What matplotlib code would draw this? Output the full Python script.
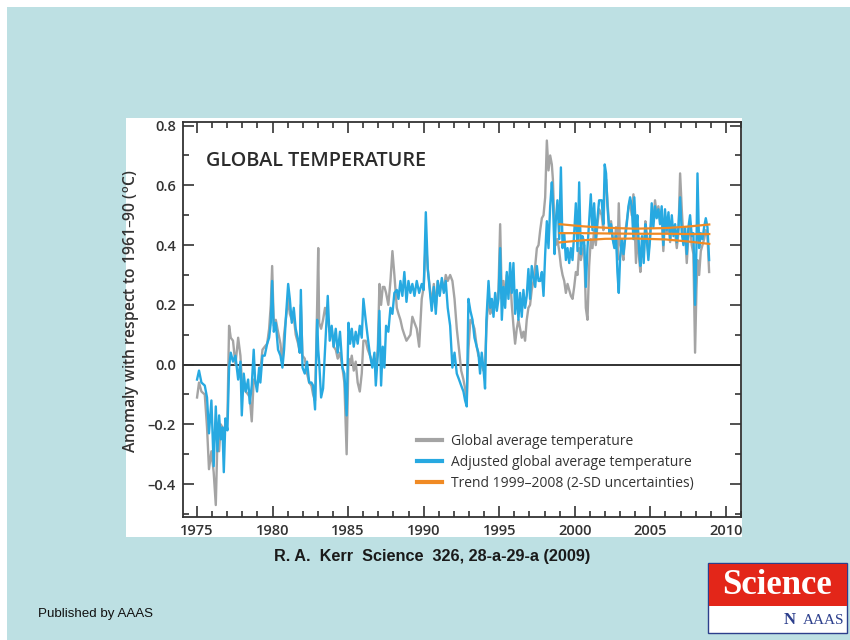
import matplotlib
matplotlib.use("Agg")
import matplotlib.pyplot as plt
from matplotlib.patches import Rectangle
from matplotlib.lines import Line2D
from matplotlib.ticker import MultipleLocator

# ---------------- data ----------------
years = [
    1975.00, 1975.13, 1975.29, 1975.51, 1975.66, 1975.79, 1975.95, 1976.10, 1976.24, 1976.35,
    1976.46, 1976.57, 1976.68, 1976.77, 1976.88, 1977.01, 1977.12, 1977.23, 1977.38, 1977.54,
    1977.72, 1977.87, 1977.96, 1978.09, 1978.22, 1978.38, 1978.49, 1978.62, 1978.75, 1978.84,
    1978.97, 1979.11, 1979.19, 1979.33, 1979.48, 1979.64, 1979.77, 1979.88, 1979.97, 1980.08,
    1980.21, 1980.36, 1980.52, 1980.65, 1980.76, 1980.87, 1981.03, 1981.14, 1981.27, 1981.40,
    1981.53, 1981.69, 1981.80, 1981.87, 1981.98, 1982.13, 1982.28, 1982.42, 1982.57, 1982.68,
    1982.81, 1982.95, 1983.02, 1983.08, 1983.21, 1983.34, 1983.47, 1983.65, 1983.78, 1983.91,
    1984.04, 1984.18, 1984.31, 1984.46, 1984.62, 1984.75, 1984.90, 1985.02, 1985.13, 1985.24,
    1985.37, 1985.50, 1985.63, 1985.77, 1985.90, 1986.01, 1986.16, 1986.30, 1986.45, 1986.60,
    1986.74, 1986.83, 1986.96, 1987.07, 1987.18, 1987.29, 1987.40, 1987.51, 1987.66, 1987.80,
    1987.93, 1988.06, 1988.22, 1988.33, 1988.46, 1988.59, 1988.72, 1988.86, 1988.99, 1989.12,
    1989.25, 1989.39, 1989.54, 1989.70, 1989.87, 1990.00, 1990.14, 1990.27, 1990.40, 1990.53,
    1990.67, 1990.80, 1990.93, 1991.06, 1991.20, 1991.33, 1991.46, 1991.59, 1991.75, 1991.90,
    1992.04, 1992.19, 1992.34, 1992.48, 1992.63, 1992.74, 1992.85, 1992.96, 1993.09, 1993.23,
    1993.36, 1993.51, 1993.62, 1993.73, 1993.84, 1993.95, 1994.06, 1994.15, 1994.29, 1994.40,
    1994.51, 1994.62, 1994.73, 1994.84, 1994.95, 1995.06, 1995.17, 1995.28, 1995.39, 1995.50,
    1995.61, 1995.72, 1995.83, 1995.94, 1996.05, 1996.16, 1996.27, 1996.38, 1996.49, 1996.60,
    1996.71, 1996.82, 1996.93, 1997.04, 1997.15, 1997.27, 1997.38, 1997.49, 1997.60, 1997.71,
    1997.82, 1997.93, 1998.04, 1998.15, 1998.26, 1998.37, 1998.48, 1998.55, 1998.66, 1998.74,
    1998.85, 1998.97, 1999.08, 1999.19, 1999.30, 1999.41, 1999.52, 1999.63, 1999.74, 1999.85,
    1999.96, 2000.07, 2000.18, 2000.29, 2000.40, 2000.51, 2000.62, 2000.73, 2000.84, 2000.95,
    2001.06, 2001.17, 2001.28, 2001.39, 2001.50, 2001.61, 2001.78, 2001.89, 2001.98, 2002.07,
    2002.16, 2002.29, 2002.40, 2002.51, 2002.62, 2002.73, 2002.82, 2002.91, 2003.00, 2003.11,
    2003.22, 2003.33, 2003.44, 2003.55, 2003.66, 2003.77, 2003.88, 2003.94, 2004.05, 2004.14,
    2004.25, 2004.34, 2004.45, 2004.56, 2004.67, 2004.76, 2004.87, 2004.98, 2005.09, 2005.20,
    2005.31, 2005.42, 2005.53, 2005.64, 2005.75, 2005.86, 2005.97, 2006.08, 2006.20, 2006.31,
    2006.42, 2006.53, 2006.64, 2006.75, 2006.86, 2006.97, 2007.08, 2007.19, 2007.30, 2007.41,
    2007.52, 2007.63, 2007.74, 2007.85, 2007.96, 2008.05, 2008.12, 2008.23, 2008.34, 2008.45,
    2008.56, 2008.67, 2008.78, 2008.89,
]

adjusted = [
    -0.05, -0.02, -0.06, -0.07, -0.11, -0.23, -0.12, -0.34, -0.14, -0.29,
    -0.17, -0.25, -0.21, -0.36, -0.18, -0.22, -0.01, 0.04, 0.01, 0.03,
    -0.05, 0.01, -0.17, -0.03, -0.09, -0.05, -0.13, -0.07, 0.05, -0.05,
    -0.09, -0.01, -0.06, 0.03, 0.03, 0.07, 0.09, 0.14, 0.28, 0.11,
    0.14, 0.05, 0.03, -0.01, 0.05, 0.15, 0.27, 0.22, 0.14, 0.19,
    0.12, 0.08, 0.04, 0.25, -0.01, -0.03, 0.01, -0.06, -0.06, -0.07,
    -0.15, 0.15, 0.05, 0.01, -0.11, -0.08, 0.05, 0.23, 0.08, 0.13,
    0.06, 0.12, 0.04, 0.11, -0.01, -0.03, -0.17, 0.14, 0.07, 0.12,
    0.06, 0.11, 0.07, 0.13, 0.09, 0.22, 0.15, 0.09, 0.03, -0.01,
    0.04, -0.07, 0.03, 0.18, -0.07, 0.06, -0.01, 0.13, 0.11, 0.19,
    0.17, 0.24, 0.25, 0.22, 0.28, 0.23, 0.31, 0.21, 0.28, 0.24,
    0.27, 0.23, 0.28, 0.24, 0.27, 0.25, 0.51, 0.32, 0.25, 0.18,
    0.26, 0.17, 0.28, 0.23, 0.29, 0.24, 0.28, 0.19, 0.13, -0.01,
    0.04, -0.03, -0.05, -0.07, -0.09, -0.12, -0.14, 0.22, 0.18, 0.15,
    0.09, 0.06, 0.04, -0.03, 0.04, -0.01, -0.08, 0.15, 0.28, 0.19,
    0.22, 0.16, 0.24, 0.18, 0.22, 0.39, 0.15, 0.26, 0.19, 0.31,
    0.22, 0.34, 0.24, 0.34, 0.17, 0.25, 0.15, 0.24, 0.16, 0.25,
    0.19, 0.23, 0.32, 0.22, 0.33, 0.29, 0.26, 0.33, 0.28, 0.28,
    0.31, 0.23, 0.37, 0.48, 0.39, 0.53, 0.61, 0.55, 0.37, 0.48,
    0.55, 0.42, 0.66, 0.39, 0.44, 0.35, 0.39, 0.34, 0.39, 0.35,
    0.44, 0.54, 0.38, 0.61, 0.37, 0.43, 0.41, 0.26, 0.39, 0.48,
    0.57, 0.45, 0.54, 0.42, 0.49, 0.55, 0.55, 0.47, 0.67, 0.64,
    0.53, 0.44, 0.47, 0.42, 0.39, 0.43, 0.31, 0.24, 0.36, 0.42,
    0.37, 0.42, 0.47, 0.53, 0.56, 0.53, 0.42, 0.56, 0.44, 0.50,
    0.39, 0.33, 0.43, 0.34, 0.47, 0.42, 0.35, 0.42, 0.54, 0.46,
    0.53, 0.49, 0.52, 0.47, 0.53, 0.40, 0.52, 0.45, 0.51, 0.42,
    0.50, 0.43, 0.47, 0.41, 0.46, 0.56, 0.44, 0.40, 0.46, 0.37,
    0.46, 0.50, 0.43, 0.44, 0.20, 0.39, 0.64, 0.39, 0.44, 0.42,
    0.46, 0.49, 0.46, 0.35,
]

global_avg = [
    -0.11, -0.06, -0.09, -0.10, -0.21, -0.35, -0.29, -0.36, -0.47, -0.25,
    -0.29, -0.20, -0.21, -0.25, -0.19, -0.18, 0.13, 0.09, 0.08, 0.00,
    0.09, 0.03, -0.05, -0.06, -0.09, -0.10, -0.11, -0.19, -0.05, -0.06,
    -0.07, -0.03, -0.02, 0.05, 0.06, 0.07, 0.12, 0.20, 0.33, 0.13,
    0.15, 0.11, 0.07, 0.00, 0.10, 0.15, 0.22, 0.17, 0.15, 0.16,
    0.10, 0.07, 0.04, 0.20, 0.03, 0.02, -0.03, -0.06, -0.07, -0.10,
    -0.12, 0.20, 0.39, 0.14, 0.12, 0.15, 0.19, 0.15, 0.11, 0.12,
    0.06, 0.05, 0.02, 0.04, -0.01, -0.06, -0.30, 0.02, 0.00, 0.03,
    -0.02, 0.01, -0.06, -0.09, -0.03, 0.08, 0.08, 0.05, 0.03, 0.01,
    0.02, -0.01, 0.05, 0.27, 0.20, 0.26, 0.26, 0.24, 0.20, 0.28,
    0.38, 0.30, 0.19, 0.17, 0.15, 0.12, 0.10, 0.08, 0.09, 0.10,
    0.16, 0.14, 0.12, 0.06, 0.22, 0.26, 0.42, 0.32, 0.26, 0.20,
    0.27, 0.19, 0.28, 0.24, 0.28, 0.25, 0.30, 0.28, 0.30, 0.28,
    0.22, 0.12, 0.05, -0.02, -0.05, -0.08, -0.12, 0.05, 0.15, 0.14,
    0.12, 0.06, 0.03, 0.02, 0.00, -0.02, 0.00, 0.12, 0.24, 0.17,
    0.19, 0.18, 0.22, 0.21, 0.25, 0.47, 0.22, 0.28, 0.22, 0.30,
    0.24, 0.30, 0.20, 0.13, 0.07, 0.12, 0.15, 0.12, 0.09, 0.11,
    0.08, 0.15, 0.19, 0.20, 0.25, 0.28, 0.33, 0.39, 0.40, 0.45,
    0.49, 0.50, 0.56, 0.75, 0.65, 0.70, 0.67, 0.62, 0.45, 0.40,
    0.42, 0.38, 0.33, 0.30, 0.28, 0.24, 0.27, 0.25, 0.23, 0.22,
    0.26, 0.31, 0.30, 0.39, 0.35, 0.38, 0.40, 0.19, 0.15, 0.33,
    0.42, 0.39, 0.45, 0.40, 0.47, 0.52, 0.50, 0.45, 0.60, 0.62,
    0.55, 0.45, 0.48, 0.42, 0.40, 0.46, 0.35, 0.54, 0.40, 0.38,
    0.35, 0.44, 0.48, 0.52, 0.55, 0.50, 0.57, 0.50, 0.34, 0.45,
    0.36, 0.31, 0.40, 0.36, 0.48, 0.44, 0.37, 0.43, 0.50, 0.48,
    0.55, 0.50, 0.53, 0.49, 0.50, 0.38, 0.49, 0.44, 0.48, 0.41,
    0.47, 0.45, 0.44, 0.39, 0.44, 0.64, 0.52, 0.42, 0.44, 0.34,
    0.43, 0.46, 0.40, 0.37, 0.04, 0.25, 0.35, 0.30, 0.38, 0.40,
    0.42, 0.45, 0.43, 0.31,
]

trend_years = [1999.0, 2000.5, 2002.0, 2004.0, 2006.0, 2007.5, 2008.9]
trend_mid = [0.440, 0.440, 0.439, 0.438, 0.438, 0.437, 0.437]
trend_hi = [0.470, 0.463, 0.458, 0.455, 0.457, 0.462, 0.469]
trend_lo = [0.409, 0.416, 0.421, 0.422, 0.419, 0.412, 0.404]

y_ticks = [-0.4, -0.2, 0.0, 0.2, 0.4, 0.6, 0.8]
y_tick_labels = ["\u20130.4", "\u20130.2", "0.0", "0.2", "0.4", "0.6", "0.8"]
x_ticks = [1975, 1980, 1985, 1990, 1995, 2000, 2005, 2010]
x_tick_labels = ["1975", "1980", "1985", "1990", "1995", "2000", "2005", "2010"]

series_labels = ["Global average temperature",
                 "Adjusted global average temperature",
                 "Trend 1999\u20132008 (2-SD uncertainties)"]

# ---------------- style ----------------
W, H = 850, 640
TEAL = "#bde0e3"
GRAY = "#a4a4a4"
BLUE = "#27a9e1"
ORANGE = "#f08a24"
INK = "#333333"
FONT = ["Open Sans", "DejaVu Sans"]

plt.rcParams["font.family"] = FONT


def fx(x):
    return x / W


def fy(y):
    return 1 - y / H


fig = plt.figure(figsize=(8.5, 6.4), dpi=100)
fig.patch.set_facecolor("white")

# teal page background and white chart panel
fig.patches.append(Rectangle((fx(7), 0), fx(850) - fx(7), fy(7), transform=fig.transFigure,
                             facecolor=TEAL, edgecolor="none", zorder=-10))
fig.patches.append(Rectangle((fx(126), fy(537)), fx(742) - fx(126), fy(118) - fy(537),
                             transform=fig.transFigure, facecolor="white",
                             edgecolor="none", zorder=-9))

ax = fig.add_axes([fx(183), fy(517), fx(741) - fx(183), fy(122) - fy(517)])
ax.set_facecolor("white")

ax.plot(years, global_avg, color=GRAY, lw=1.7, solid_joinstyle="round", zorder=2)
ax.plot(years, adjusted, color=BLUE, lw=1.7, solid_joinstyle="round", zorder=3)
for s in (trend_hi, trend_mid, trend_lo):
    ax.plot(trend_years, s, color=ORANGE, lw=1.6, zorder=4)

ax.axhline(0.0, color="#222222", lw=1.3, zorder=1)

ax.set_xlim(1974.07, 2011.0)
ax.set_ylim(-0.51, 0.812)

ax.set_xticks(x_ticks)
ax.set_xticklabels(x_tick_labels)
ax.set_yticks(y_ticks)
ax.set_yticklabels(y_tick_labels)
ax.xaxis.set_minor_locator(MultipleLocator(1))
ax.yaxis.set_minor_locator(MultipleLocator(0.1))
ax.tick_params(which="both", direction="in", top=True, right=True, color=INK, width=1.2)
ax.tick_params(which="major", length=8)
ax.tick_params(which="minor", length=4.5)
ax.tick_params(axis="both", labelsize=10.5, labelcolor=INK)
ax.tick_params(axis="y", pad=5)
ax.tick_params(axis="x", pad=5)
for lab in ax.get_xticklabels() + ax.get_yticklabels():
    lab.set_fontweight("semibold")
for sp in ax.spines.values():
    sp.set_color(INK)
    sp.set_linewidth(1.3)

ax.set_ylabel("Anomaly with respect to 1961\u201390 ($^{\\mathregular{o}}$C)",
              fontsize=11.3, color=INK, fontweight="semibold")
ax.yaxis.set_label_coords(-0.074, 0.522)

ax.text(0.042, 0.901, "GLOBAL TEMPERATURE", transform=ax.transAxes,
        fontsize=14.3, fontweight="semibold", color="#2b2b2b", va="center", ha="left")

handles = [Line2D([], [], color=GRAY, lw=3),
           Line2D([], [], color=BLUE, lw=3),
           Line2D([], [], color=ORANGE, lw=3)]
leg = ax.legend(handles, series_labels, loc="lower left", bbox_to_anchor=(0.41, 0.051),
                frameon=False, fontsize=10, handlelength=1.8, handletextpad=0.65,
                labelspacing=0.45, borderaxespad=0)
for t in leg.get_texts():
    t.set_color(INK)

# caption and footer
fig.text(fx(432), fy(556), "R. A.  Kerr  Science  326, 28-a-29-a (2009)",
         family=["Liberation Sans", "DejaVu Sans"], fontweight="bold", fontsize=11.7,
         color="#1a1a1a", ha="center", va="center")
fig.text(fx(38), fy(614), "Published by AAAS", family=["Liberation Sans", "DejaVu Sans"],
         fontsize=9.6, color="#111111", ha="left", va="center")

# Science / AAAS logo
fig.patches.append(Rectangle((fx(708), fy(633)), fx(847) - fx(708), fy(563) - fy(633),
                             transform=fig.transFigure, facecolor="white",
                             edgecolor="#2c3f8c", lw=1.0, zorder=5))
fig.patches.append(Rectangle((fx(708.5), fy(606)), fx(846.5) - fx(708.5), fy(563.5) - fy(606),
                             transform=fig.transFigure, facecolor="#e32619",
                             edgecolor="none", zorder=6))
fig.text(fx(777), fy(585), "Science", family=["Liberation Serif", "DejaVu Serif"],
         fontweight="bold", fontsize=25, color="white", ha="center", va="center", zorder=7)
fig.text(fx(844), fy(620), "AAAS", family=["Liberation Serif", "DejaVu Serif"],
         fontsize=11, color="#2c3f8c", ha="right", va="center", zorder=7)
fig.text(fx(790), fy(620), "N", family=["Liberation Serif", "DejaVu Serif"],
         fontweight="bold", fontsize=12, color="#2c3f8c", ha="center", va="center", zorder=7)

fig.savefig("out.png", dpi=100, facecolor=fig.get_facecolor())
